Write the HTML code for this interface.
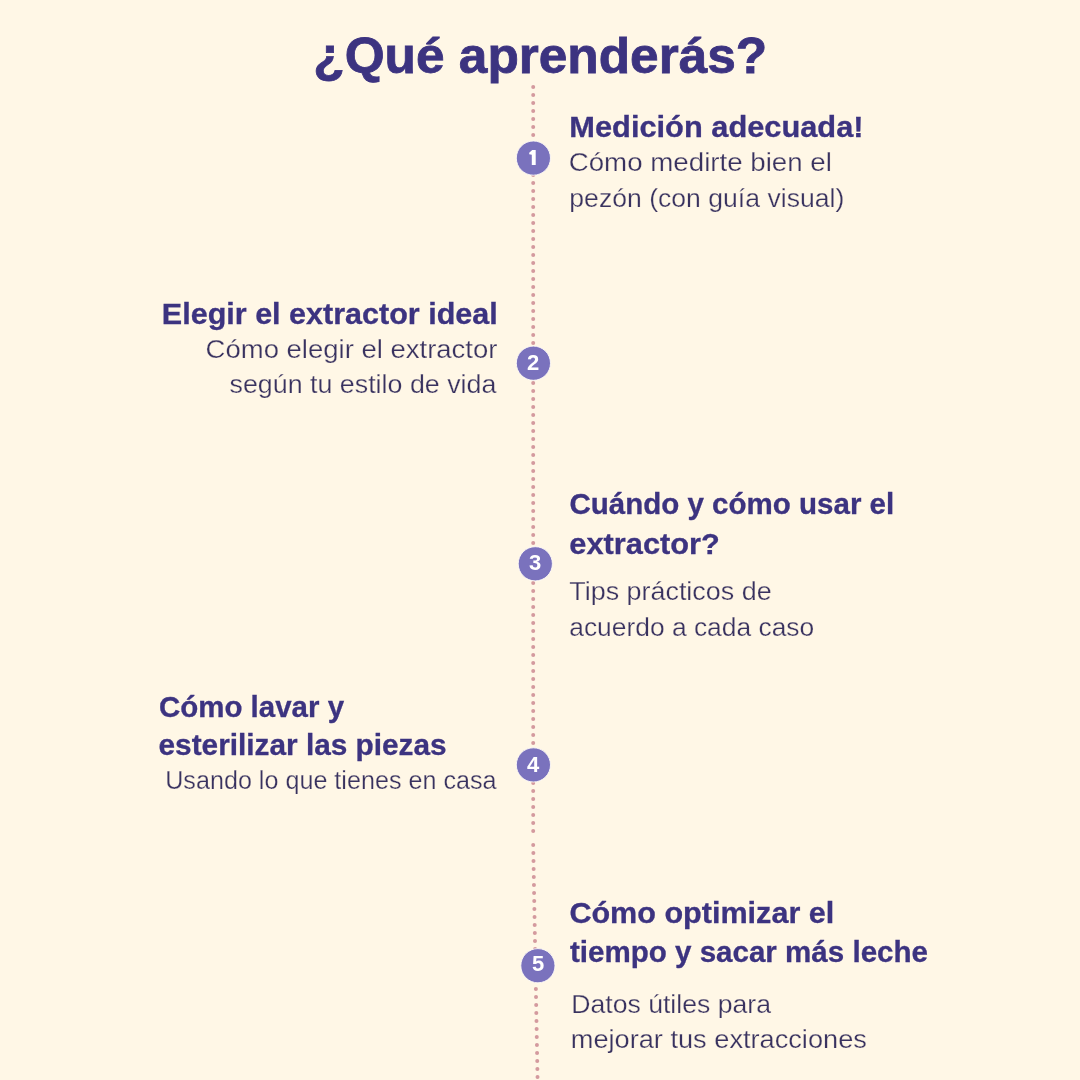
<!DOCTYPE html>
<html><head><meta charset="utf-8"><title>¿Qué aprenderás?</title>
<style>
html,body{margin:0;padding:0;background:#fff7e6;}
body{width:1080px;height:1080px;overflow:hidden;position:relative;font-family:"Liberation Sans",sans-serif;}
svg{position:absolute;left:0;top:0;display:block;will-change:transform;}
</style></head>
<body>
<svg width="1080" height="1080" viewBox="0 0 1080 1080" font-family="Liberation Sans, sans-serif">
<rect width="1080" height="1080" fill="#fff7e6"/>
<g fill="#d49a9e">
<circle cx="533.2" cy="87" r="2"/>
<circle cx="533.2" cy="95" r="2"/>
<circle cx="533.2" cy="103" r="2"/>
<circle cx="533.2" cy="111" r="2"/>
<circle cx="533.2" cy="119" r="2"/>
<circle cx="533.2" cy="127" r="2"/>
<circle cx="533.2" cy="135" r="2"/>
<circle cx="533.2" cy="143" r="2"/>
<circle cx="533.2" cy="151" r="2"/>
<circle cx="533.2" cy="159" r="2"/>
<circle cx="533.2" cy="167" r="2"/>
<circle cx="533.2" cy="175" r="2"/>
<circle cx="533.2" cy="183" r="2"/>
<circle cx="533.2" cy="191" r="2"/>
<circle cx="533.2" cy="199" r="2"/>
<circle cx="533.2" cy="207" r="2"/>
<circle cx="533.2" cy="215" r="2"/>
<circle cx="533.2" cy="223" r="2"/>
<circle cx="533.2" cy="231" r="2"/>
<circle cx="533.2" cy="239" r="2"/>
<circle cx="533.2" cy="247" r="2"/>
<circle cx="533.2" cy="255" r="2"/>
<circle cx="533.2" cy="263" r="2"/>
<circle cx="533.2" cy="271" r="2"/>
<circle cx="533.2" cy="279" r="2"/>
<circle cx="533.2" cy="287" r="2"/>
<circle cx="533.2" cy="295" r="2"/>
<circle cx="533.2" cy="303" r="2"/>
<circle cx="533.2" cy="311" r="2"/>
<circle cx="533.2" cy="319" r="2"/>
<circle cx="533.2" cy="327" r="2"/>
<circle cx="533.2" cy="335" r="2"/>
<circle cx="533.2" cy="343" r="2"/>
<circle cx="533.2" cy="351" r="2"/>
<circle cx="533.2" cy="359" r="2"/>
<circle cx="533.2" cy="367" r="2"/>
<circle cx="533.2" cy="375" r="2"/>
<circle cx="533.2" cy="383" r="2"/>
<circle cx="533.2" cy="391" r="2"/>
<circle cx="533.2" cy="399" r="2"/>
<circle cx="533.2" cy="407" r="2"/>
<circle cx="533.2" cy="415" r="2"/>
<circle cx="533.2" cy="423" r="2"/>
<circle cx="533.2" cy="431" r="2"/>
<circle cx="533.2" cy="439" r="2"/>
<circle cx="533.2" cy="447" r="2"/>
<circle cx="533.2" cy="455" r="2"/>
<circle cx="533.2" cy="463" r="2"/>
<circle cx="533.2" cy="471" r="2"/>
<circle cx="533.2" cy="479" r="2"/>
<circle cx="533.2" cy="487" r="2"/>
<circle cx="533.2" cy="495" r="2"/>
<circle cx="533.2" cy="503" r="2"/>
<circle cx="533.2" cy="511" r="2"/>
<circle cx="533.2" cy="519" r="2"/>
<circle cx="533.2" cy="527" r="2"/>
<circle cx="533.2" cy="535" r="2"/>
<circle cx="533.2" cy="543" r="2"/>
<circle cx="533.2" cy="551" r="2"/>
<circle cx="533.2" cy="559" r="2"/>
<circle cx="533.2" cy="567" r="2"/>
<circle cx="533.2" cy="575" r="2"/>
<circle cx="533.2" cy="583" r="2"/>
<circle cx="533.2" cy="591" r="2"/>
<circle cx="533.2" cy="599" r="2"/>
<circle cx="533.2" cy="607" r="2"/>
<circle cx="533.2" cy="615" r="2"/>
<circle cx="533.2" cy="623" r="2"/>
<circle cx="533.2" cy="631" r="2"/>
<circle cx="533.2" cy="639" r="2"/>
<circle cx="533.2" cy="647" r="2"/>
<circle cx="533.2" cy="655" r="2"/>
<circle cx="533.2" cy="663" r="2"/>
<circle cx="533.2" cy="671" r="2"/>
<circle cx="533.2" cy="679" r="2"/>
<circle cx="533.2" cy="687" r="2"/>
<circle cx="533.2" cy="695" r="2"/>
<circle cx="533.2" cy="703" r="2"/>
<circle cx="533.2" cy="711" r="2"/>
<circle cx="533.2" cy="719" r="2"/>
<circle cx="533.2" cy="727" r="2"/>
<circle cx="533.2" cy="735" r="2"/>
<circle cx="533.2" cy="743" r="2"/>
<circle cx="533.2" cy="751" r="2"/>
<circle cx="533.2" cy="759" r="2"/>
<circle cx="533.2" cy="767" r="2"/>
<circle cx="533.2" cy="775" r="2"/>
<circle cx="533.2" cy="783" r="2"/>
<circle cx="533.2" cy="791" r="2"/>
<circle cx="533.2" cy="799" r="2"/>
<circle cx="533.2" cy="807" r="2"/>
<circle cx="533.2" cy="815" r="2"/>
<circle cx="533.2" cy="823" r="2"/>
<circle cx="533.2" cy="831" r="2"/>
<circle cx="533.20" cy="845" r="2"/>
<circle cx="533.35" cy="853" r="2"/>
<circle cx="533.50" cy="861" r="2"/>
<circle cx="533.65" cy="869" r="2"/>
<circle cx="533.80" cy="877" r="2"/>
<circle cx="533.94" cy="885" r="2"/>
<circle cx="534.09" cy="893" r="2"/>
<circle cx="534.24" cy="901" r="2"/>
<circle cx="534.39" cy="909" r="2"/>
<circle cx="534.54" cy="917" r="2"/>
<circle cx="534.69" cy="925" r="2"/>
<circle cx="534.84" cy="933" r="2"/>
<circle cx="534.99" cy="941" r="2"/>
<circle cx="535.13" cy="949" r="2"/>
<circle cx="535.28" cy="957" r="2"/>
<circle cx="535.43" cy="965" r="2"/>
<circle cx="535.58" cy="973" r="2"/>
<circle cx="535.73" cy="981" r="2"/>
<circle cx="535.88" cy="989" r="2"/>
<circle cx="536.03" cy="997" r="2"/>
<circle cx="536.18" cy="1005" r="2"/>
<circle cx="536.32" cy="1013" r="2"/>
<circle cx="536.47" cy="1021" r="2"/>
<circle cx="536.62" cy="1029" r="2"/>
<circle cx="536.77" cy="1037" r="2"/>
<circle cx="536.92" cy="1045" r="2"/>
<circle cx="537.07" cy="1053" r="2"/>
<circle cx="537.22" cy="1061" r="2"/>
<circle cx="537.37" cy="1069" r="2"/>
<circle cx="537.52" cy="1077" r="2"/>
</g>
<g fill="#7a72bd" stroke="#fffcf7" stroke-width="0.9">
<circle cx="533.4" cy="158.1" r="17.1"/>
<circle cx="533.4" cy="363.2" r="17.1"/>
<circle cx="535.3" cy="563.8" r="17.1"/>
<circle cx="533.4" cy="764.9" r="17.1"/>
<circle cx="537.9" cy="965.7" r="17.1"/>
</g>
<g>
<path fill="#ffffff" d="M529.2,152.7 L532.2,149.9 H535.7 V165 H531.8 V154.8 L529.2,154.3 Z"/>
<text x="527.11" y="369.73" font-size="22" font-weight="700" fill="#ffffff">2</text>
<text x="528.98" y="569.93" font-size="22" font-weight="700" fill="#ffffff">3</text>
<text x="526.91" y="772.03" font-size="22" font-weight="700" fill="#ffffff">4</text>
<text x="532.08" y="971.23" font-size="22" font-weight="700" fill="#ffffff">5</text>
</g>
<g fill="#3c3380">
<text x="313.29" y="72.80" font-size="50.5" font-weight="700" textLength="453.89" lengthAdjust="spacingAndGlyphs" stroke="#3c3380" stroke-width="0.8">¿Qué aprenderás?</text>
<text x="569.33" y="136.70" font-size="30" font-weight="700" textLength="294.18" lengthAdjust="spacingAndGlyphs" stroke="#3c3380" stroke-width="0.3">Medición adecuada!</text>
<text x="161.84" y="324.00" font-size="30" font-weight="700" textLength="335.91" lengthAdjust="spacingAndGlyphs" stroke="#3c3380" stroke-width="0.3">Elegir el extractor ideal</text>
<text x="569.43" y="514.30" font-size="30" font-weight="700" textLength="324.77" lengthAdjust="spacingAndGlyphs" stroke="#3c3380" stroke-width="0.3">Cuándo y cómo usar el</text>
<text x="569.39" y="553.50" font-size="30" font-weight="700" textLength="150.45" lengthAdjust="spacingAndGlyphs" stroke="#3c3380" stroke-width="0.3">extractor?</text>
<text x="158.93" y="716.50" font-size="30" font-weight="700" textLength="185.13" lengthAdjust="spacingAndGlyphs" stroke="#3c3380" stroke-width="0.3">Cómo lavar y</text>
<text x="158.52" y="755.30" font-size="30" font-weight="700" textLength="288.14" lengthAdjust="spacingAndGlyphs" stroke="#3c3380" stroke-width="0.3">esterilizar las piezas</text>
<text x="569.40" y="922.70" font-size="30" font-weight="700" textLength="264.86" lengthAdjust="spacingAndGlyphs" stroke="#3c3380" stroke-width="0.3">Cómo optimizar el</text>
<text x="569.95" y="961.50" font-size="30" font-weight="700" textLength="358.04" lengthAdjust="spacingAndGlyphs" stroke="#3c3380" stroke-width="0.3">tiempo y sacar más leche</text>
<text x="568.68" y="171.00" font-size="26" font-weight="400" textLength="263.27" lengthAdjust="spacingAndGlyphs" stroke="#fff7e6" stroke-width="0.25" fill="#39325f">Cómo medirte bien el</text>
<text x="569.31" y="207.00" font-size="26" font-weight="400" textLength="274.99" lengthAdjust="spacingAndGlyphs" stroke="#fff7e6" stroke-width="0.25" fill="#39325f">pezón (con guía visual)</text>
<text x="205.59" y="357.60" font-size="26" font-weight="400" textLength="291.87" lengthAdjust="spacingAndGlyphs" stroke="#fff7e6" stroke-width="0.25" fill="#39325f">Cómo elegir el extractor</text>
<text x="229.56" y="392.60" font-size="26" font-weight="400" textLength="266.80" lengthAdjust="spacingAndGlyphs" stroke="#fff7e6" stroke-width="0.25" fill="#39325f">según tu estilo de vida</text>
<text x="569.25" y="599.70" font-size="26" font-weight="400" textLength="202.36" lengthAdjust="spacingAndGlyphs" stroke="#fff7e6" stroke-width="0.25" fill="#39325f">Tips prácticos de</text>
<text x="569.25" y="635.70" font-size="26" font-weight="400" textLength="244.94" lengthAdjust="spacingAndGlyphs" stroke="#fff7e6" stroke-width="0.25" fill="#39325f">acuerdo a cada caso</text>
<text x="165.20" y="788.70" font-size="26" font-weight="400" textLength="331.36" lengthAdjust="spacingAndGlyphs" stroke="#fff7e6" stroke-width="0.25" fill="#39325f">Usando lo que tienes en casa</text>
<text x="571.19" y="1012.50" font-size="26" font-weight="400" textLength="199.86" lengthAdjust="spacingAndGlyphs" stroke="#fff7e6" stroke-width="0.25" fill="#39325f">Datos útiles para</text>
<text x="570.78" y="1048.20" font-size="26" font-weight="400" textLength="296.10" lengthAdjust="spacingAndGlyphs" stroke="#fff7e6" stroke-width="0.25" fill="#39325f">mejorar tus extracciones</text>
</g>
</svg>
</body></html>
